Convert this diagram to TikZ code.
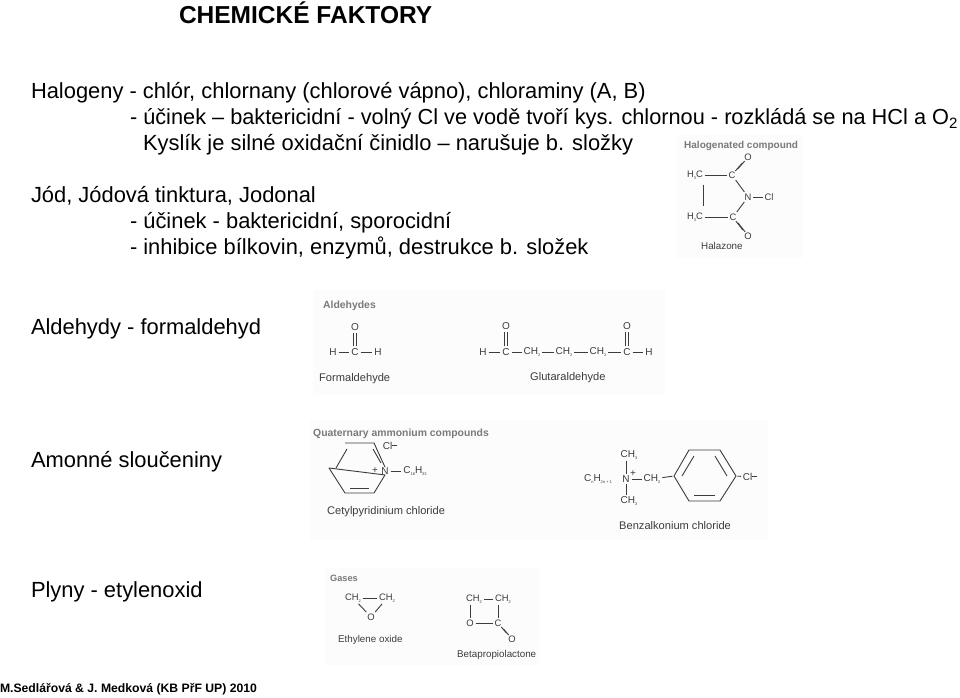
\documentclass[tikz,border=0pt]{standalone}
\usepackage{fontspec}
\setmainfont{Liberation Sans}
\definecolor{mol}{HTML}{3C3C3C}
\definecolor{head}{HTML}{7A7A7A}
\definecolor{panel}{HTML}{FCFCFC}
\newcommand{\sbs}[1]{\raisebox{-1.8pt}{\fontsize{4}{4}\selectfont #1}}
\newcommand{\dbond}[4]{%
  \draw[bond,transform canvas={shift={(#3pt,#4pt)}}] (#1) -- (#2);
  \draw[bond,transform canvas={shift={(-#3pt,-#4pt)}}] (#1) -- (#2);}
\tikzset{
  x=1pt,y=-1pt,
  txt/.style={anchor=base west,inner sep=0pt,outer sep=0pt,font=\fontsize{21.9}{24}\selectfont,text=black},
  ttl/.style={txt,font=\fontsize{24.5}{26}\bfseries\selectfont},
  foot/.style={txt,font=\fontsize{12.2}{14}\bfseries\selectfont},
  atom/.style={inner sep=.5pt,outer sep=0pt,font=\fontsize{10}{11}\selectfont,text=mol},
  atoms/.style={atom,font=\fontsize{9.4}{10}\selectfont},
  capt/.style={anchor=base west,inner sep=0pt,font=\fontsize{11.1}{12}\selectfont,text=mol},
  capts/.style={capt,font=\fontsize{9.8}{11}\selectfont},
  headl/.style={anchor=base west,inner sep=0pt,font=\fontsize{10.4}{11}\bfseries\selectfont,text=head},
  bond/.style={draw=mol,line width=.9pt,shorten >=1.5pt,shorten <=1.5pt},
  ringl/.style={draw=mol,line width=.9pt,line join=round},
  panelbox/.style={fill=panel,draw=none}
}
\begin{document}
\begin{tikzpicture}
\useasboundingbox (0,0) rectangle (960,697);
\fill[white] (0,0) rectangle (960,697);
\fill[panelbox] (676,135) rectangle (803,258);
\fill[panelbox] (313,290) rectangle (665,395);
\fill[panelbox] (310,420) rectangle (768,540);
\fill[panelbox] (325,568) rectangle (540,665);

\node[ttl] (title) at (179,23) {CHEMICKÉ FAKTORY};
\node[txt] (l1) at (31,98) {Halogeny - chlór, chlornany (chlorové vápno), chloraminy (A, B)};
\node[txt,font=\fontsize{21.75}{24}\selectfont] (l2) at (130,124) {- účinek – baktericidní - volný Cl ve vodě tvoří kys. chlornou - rozkládá se na HCl a O\raisebox{-4pt}{\fontsize{15}{15}\selectfont 2}};
\node[txt] (l3) at (143,150) {Kyslík je silné oxidační činidlo – narušuje b. složky};
\node[txt] (l4) at (31,202) {Jód, Jódová tinktura, Jodonal};
\node[txt] (l5) at (130,228) {- účinek - baktericidní, sporocidní};
\node[txt] (l6) at (130,254) {- inhibice bílkovin, enzymů, destrukce b. složek};
\node[txt] (l7) at (31,334) {Aldehydy - formaldehyd};
\node[txt] (l8) at (31,467) {Amonné sloučeniny};
\node[txt] (l9) at (31,597) {Plyny - etylenoxid};
\node[foot] (l10) at (0,692) {M.Sedlářová \& J. Medková (KB PřF UP) 2010};

% Halazone
\node[headl,font=\fontsize{10}{11}\bfseries\selectfont] (hzt) at (684,148) {Halogenated compound};
\node[atoms] (hzo1) at (748,157) {O};
\node[atoms] (hzc1) at (732,175) {C};
\node[atoms] (hzh1) at (695,175) {H\sbs{3}C};
\node[atoms] (hzn) at (748,197) {N};
\node[atoms] (hzcl) at (769,197) {Cl};
\node[atoms] (hzh2) at (695,217) {H\sbs{3}C};
\node[atoms] (hzc2) at (733,217) {C};
\node[atoms] (hzo2) at (748,236) {O};
\node[capts] (hzl) at (701,249) {Halazone};
\coordinate (hzv1) at (703,183);
\coordinate (hzv2) at (703,207);
\draw[bond] (hzh1) -- (hzc1);
\draw[bond] (hzh2) -- (hzc2);
\draw[bond] (hzv1) -- (hzv2);
\draw[bond] (hzc1) -- (hzn);
\draw[bond] (hzc2) -- (hzn);
\draw[bond] (hzn) -- (hzcl);
\dbond{hzc1}{hzo1}{1.1}{0.9}
\dbond{hzc2}{hzo2}{1.1}{-0.9}

% Formaldehyde
\node[headl] (alt) at (323,308) {Aldehydes};
\node[atom] (fo) at (355,327) {O};
\node[atom] (fc) at (355,352) {C};
\node[atom] (fh1) at (333,352) {H};
\node[atom] (fh2) at (378,352) {H};
\node[capt] (fl) at (319,381) {Formaldehyde};
\dbond{fc}{fo}{1.5}{0}
\draw[bond] (fh1) -- (fc);
\draw[bond] (fc) -- (fh2);

% Glutaraldehyde
\node[atom] (go1) at (506,326) {O};
\node[atom] (gc1) at (506,352) {C};
\node[atom] (gh1) at (483,352) {H};
\node[atom] (gm1) at (532,352) {CH\sbs{2}};
\node[atom] (gm2) at (564,352) {CH\sbs{2}};
\node[atom] (gm3) at (598,352) {CH\sbs{2}};
\node[atom] (gc2) at (627,352) {C};
\node[atom] (go2) at (627,326) {O};
\node[atom] (gh2) at (649,352) {H};
\node[capt] (gl) at (530,380) {Glutaraldehyde};
\dbond{gc1}{go1}{1.5}{0}
\dbond{gc2}{go2}{1.5}{0}
\draw[bond] (gh1) -- (gc1);
\draw[bond] (gc1) -- (gm1);
\draw[bond] (gm1) -- (gm2);
\draw[bond] (gm2) -- (gm3);
\draw[bond] (gm3) -- (gc2);
\draw[bond] (gc2) -- (gh2);

% Cetylpyridinium
\node[headl] (qt) at (313,436) {Quaternary ammonium compounds};
\coordinate (p1) at (345,443);
\coordinate (p2) at (374,443);
\coordinate (p3) at (374,493);
\coordinate (p4) at (345,493);
\coordinate (p5) at (329,468);
\node[atom] (pn) at (385,471) {N};
\node[atom] (pplus) at (375,471) {+};
\node[atom] (pcl) at (390,446) {Cl\raisebox{3.5pt}{\rule{5pt}{.7pt}}};
\node[atom] (pc) at (415,471) {C\sbs{16}H\sbs{33}};
\node[capt] (pl) at (327,514) {Cetylpyridinium chloride};
\draw[ringl] (p1) -- (p2) -- (pn.north) (pn.south) -- (p3) -- (p4) -- (p5) -- cycle;
\draw[bond] (pn) -- (pc);
\coordinate (pa1) at (373,449);
\coordinate (pa2) at (381,463);
\coordinate (pb1) at (350,488);
\coordinate (pb2) at (369,488);
\coordinate (pd1) at (336,468);
\coordinate (pd2) at (347,449);
\draw[ringl] (pa1) -- (pa2);
\draw[ringl] (pb1) -- (pb2);
\draw[ringl] (pd1) -- (pd2);

% Benzalkonium
\node[atom] (bm1) at (629,455) {CH\sbs{3}};
\node[atom] (bn) at (626,479) {N};
\node[atom] (bplus) at (633,474) {+};
\node[atom] (bm2) at (629,501) {CH\sbs{3}};
\node[atom] (br) at (598,479) {C\sbs{n}H\sbs{2n + 1}};
\node[atom] (bch) at (652,479) {CH\sbs{2}};
\coordinate (r1) at (689,450);
\coordinate (r2) at (720,450);
\coordinate (r3) at (736,476);
\coordinate (r4) at (720,501);
\coordinate (r5) at (689,501);
\coordinate (r6) at (674,476);
\node[atom] (bcl) at (750,477) {Cl\raisebox{3.5pt}{\rule{5pt}{.7pt}}};
\node[capt] (bl) at (619,529) {Benzalkonium chloride};
\draw[ringl] (r1) -- (r2) -- (r3) -- (r4) -- (r5) -- (r6) -- cycle;
\draw[bond] (bn) -- (bm1.south -| bn);
\draw[bond] (bn) -- (bm2.north -| bn);
\draw[bond] (bn) -- (bch);
\draw[bond] (bch) -- (r6);
\draw[bond] (r3) -- (bcl);
\coordinate (ra1) at (715,456);
\coordinate (ra2) at (727,476);
\coordinate (rb1) at (694,495);
\coordinate (rb2) at (715,495);
\coordinate (rc1) at (682,476);
\coordinate (rc2) at (694,456);
\draw[ringl] (ra1) -- (ra2);
\draw[ringl] (rb1) -- (rb2);
\draw[ringl] (rc1) -- (rc2);

% Ethylene oxide
\node[headl,font=\fontsize{9.2}{10}\bfseries\selectfont] (gt) at (330,581) {Gases};
\node[atoms] (e1) at (353,598) {CH\sbs{2}};
\node[atoms] (e2) at (387,598) {CH\sbs{2}};
\node[atoms] (eo) at (371,617) {O};
\node[capts] (el) at (338,642) {Ethylene oxide};
\draw[bond] (e1) -- (e2);
\draw[bond] (e1) -- (eo);
\draw[bond] (e2) -- (eo);

% Betapropiolactone
\node[atoms] (t1) at (474,599) {CH\sbs{2}};
\node[atoms] (t2) at (503,599) {CH\sbs{2}};
\node[atoms] (to) at (470,623) {O};
\node[atoms] (tc) at (498,623) {C};
\node[atoms] (to2) at (512,639) {O};
\node[capts] (tl) at (457,657) {Betapropiolactone};
\draw[bond] (t1) -- (t2);
\draw[bond] (t1.south -| to) -- (to);
\draw[bond] (t2.south -| tc) -- (tc);
\draw[bond] (to) -- (tc);
\dbond{tc}{to2}{1.1}{-1}
\end{tikzpicture}
\end{document}
